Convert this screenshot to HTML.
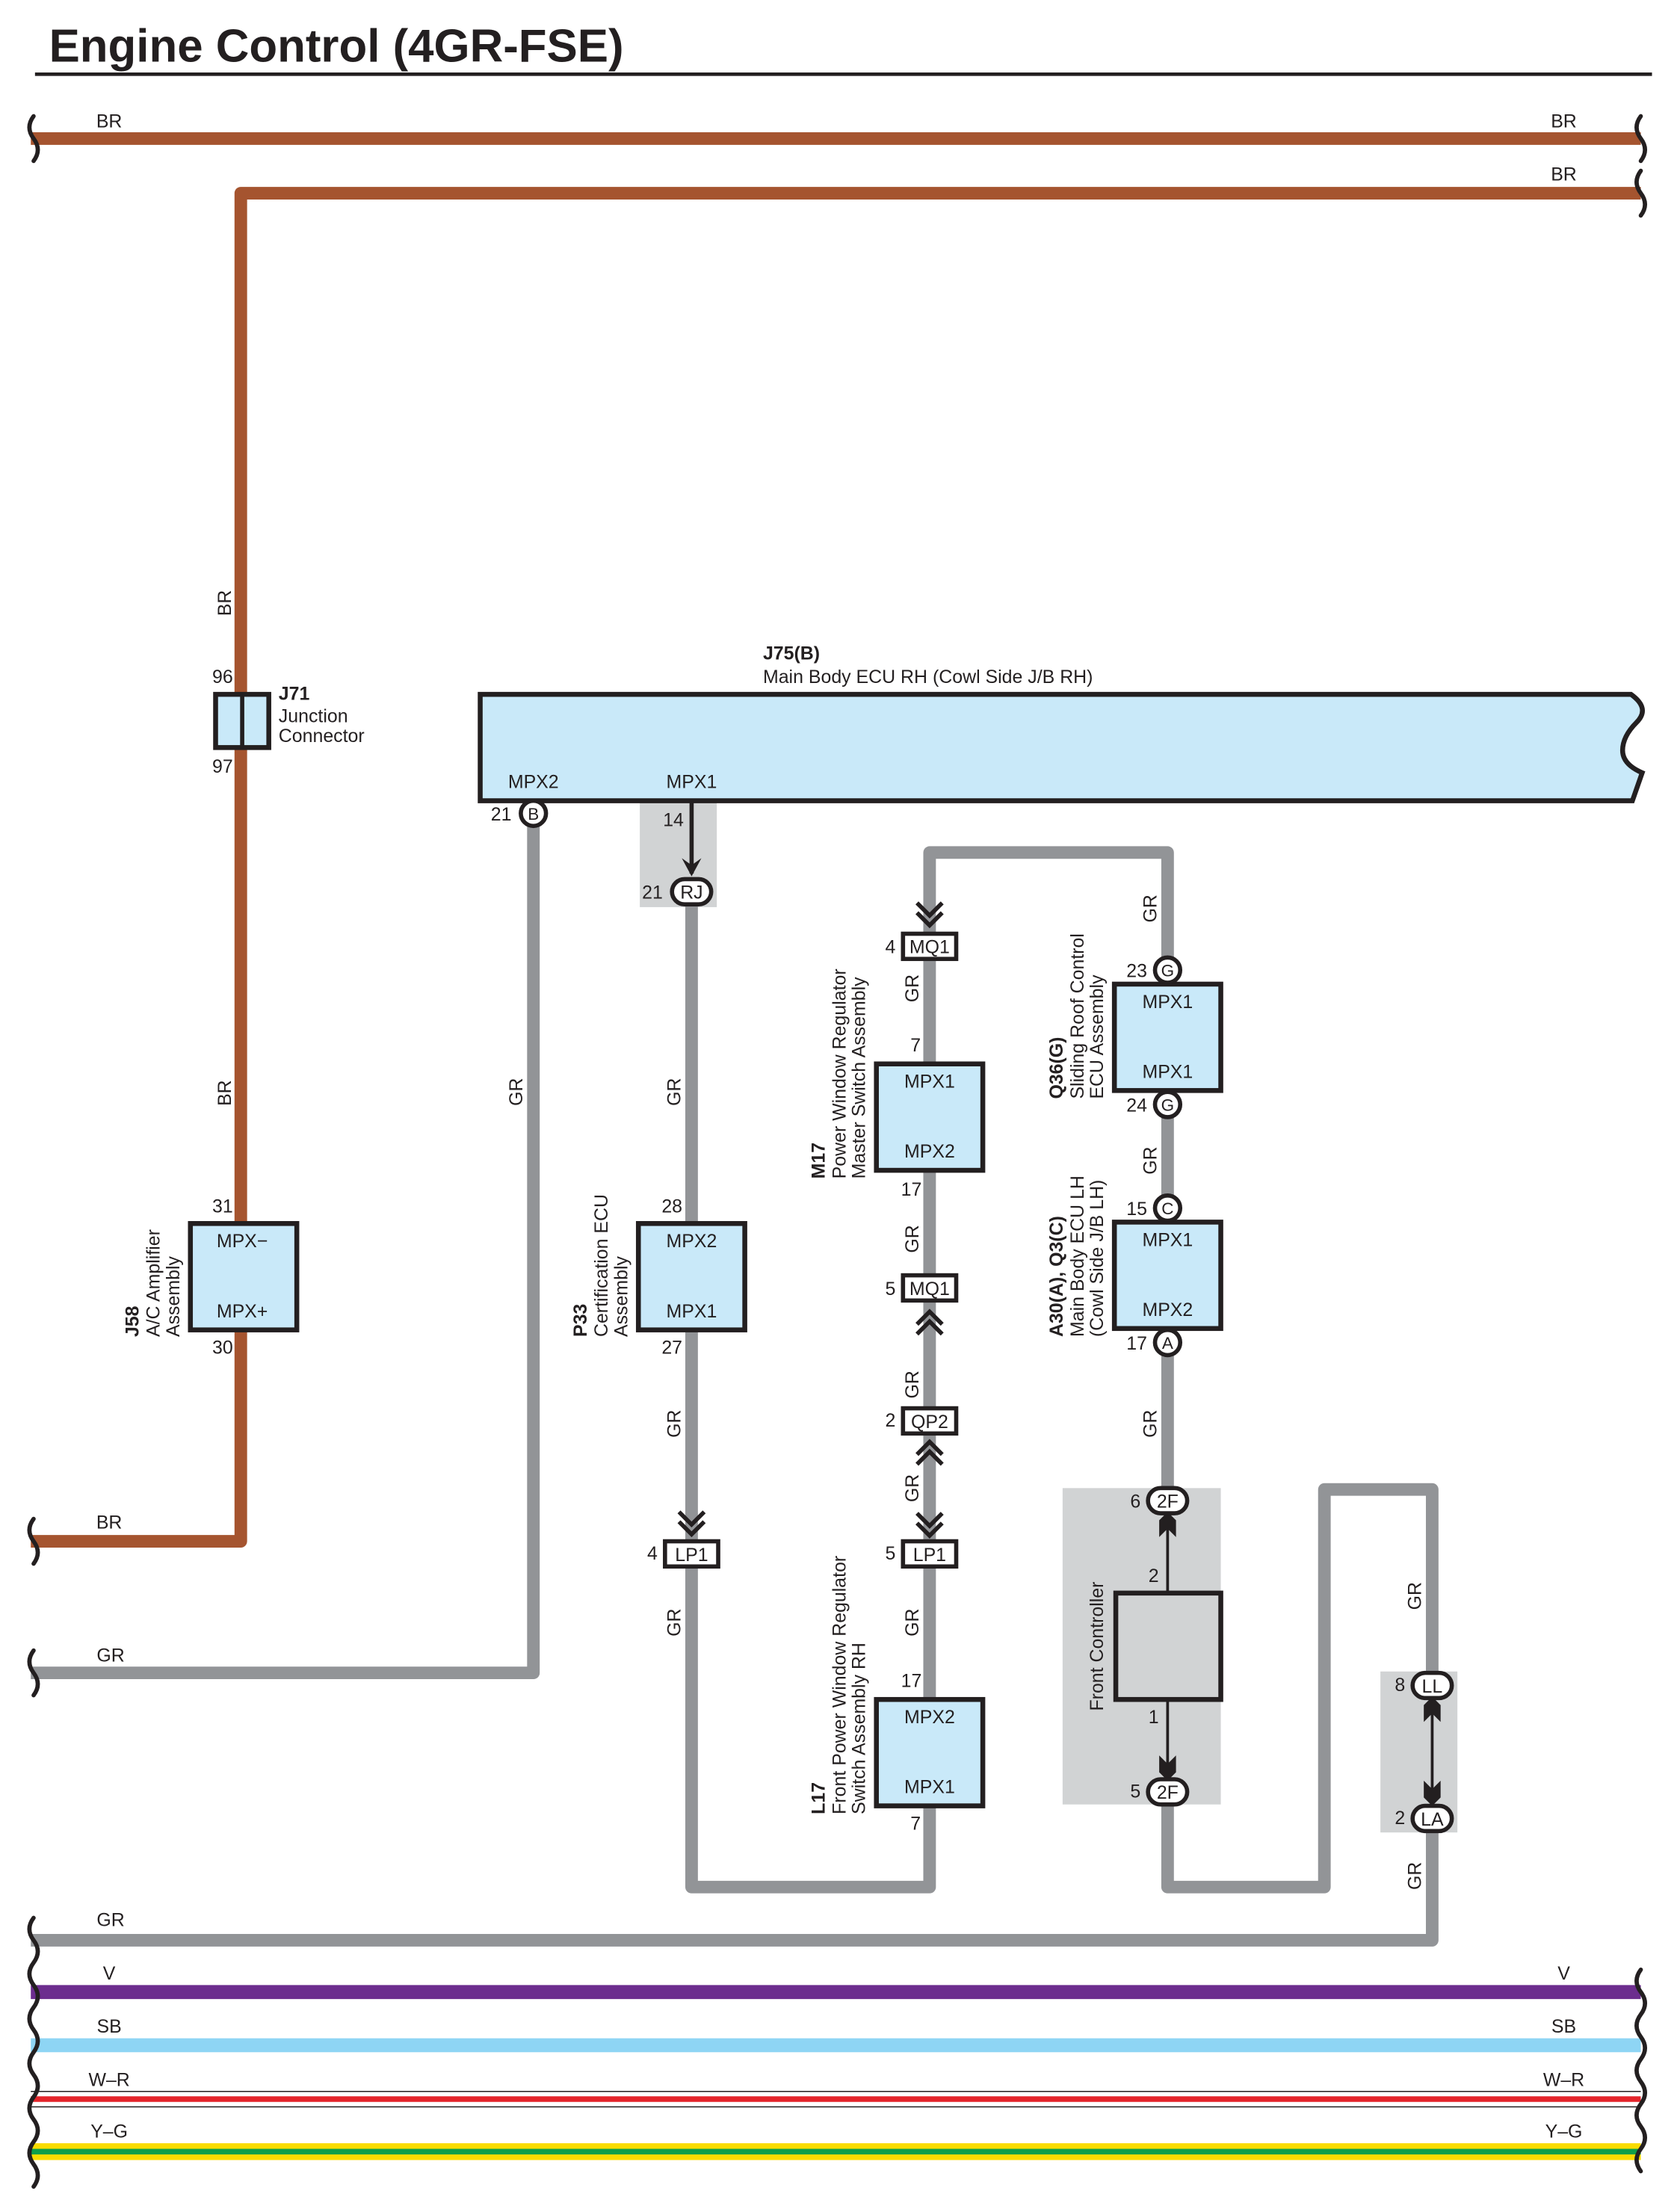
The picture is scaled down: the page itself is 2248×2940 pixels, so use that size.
<!DOCTYPE html>
<html><head><meta charset="utf-8"><style>
html,body{margin:0;padding:0;background:#fff;width:2248px;height:2940px;overflow:hidden}
svg{display:block}
text{font-family:"Liberation Sans",sans-serif;font-size:13.3px;fill:#231f20}
.b{font-weight:bold}
.w{fill:none;stroke-linejoin:round;stroke-linecap:butt}
.br{stroke:#a5542f;stroke-width:9}
.gr{stroke:#929497;stroke-width:9}
.k{fill:none;stroke:#231f20;stroke-width:3}
.box{fill:#c9e9f9;stroke:#231f20;stroke-width:3.5}
.cc{fill:#fff;stroke:#231f20;stroke-width:3}
.wv{fill:none;stroke:#231f20;stroke-width:3;stroke-linecap:round}
.m{text-anchor:middle}
.e{text-anchor:end}
</style></head><body>
<svg width="2248" height="2940" viewBox="0 0 1200 1569.4" xmlns="http://www.w3.org/2000/svg">
<text x="35" y="44" class="b" style="font-size:33px">Engine Control (4GR-FSE)</text>
<line x1="25" y1="53" x2="1180" y2="53" stroke="#231f20" stroke-width="2.5"/>

<!-- BR wires -->
<line class="w br" x1="22" y1="99" x2="1172" y2="99"/>
<polyline class="w br" points="1172,138 172,138 172,1101 22,1101"/>
<text x="78" y="91" class="m">BR</text><text x="1117" y="91" class="m">BR</text>
<text x="1117" y="129" class="m">BR</text><text x="78" y="1092" class="m">BR</text>
<text transform="translate(165,440) rotate(-90)">BR</text>
<text transform="translate(165,790) rotate(-90)">BR</text>

<!-- J71 -->
<rect x="154" y="496" width="38" height="38" class="box"/>
<line x1="173" y1="496" x2="173" y2="534" stroke="#231f20" stroke-width="3"/>
<text x="159" y="488" class="m">96</text><text x="159" y="552" class="m">97</text>
<text x="199" y="500" class="b">J71</text><text x="199" y="516">Junction</text><text x="199" y="530">Connector</text>

<!-- J58 -->
<rect x="136" y="874" width="76" height="76" class="box"/>
<text x="173" y="891" class="m">MPX−</text><text x="173" y="941" class="m">MPX+</text>
<text x="159" y="866" class="m">31</text><text x="159" y="967" class="m">30</text>
<text transform="translate(99,955) rotate(-90)" class="b">J58</text>
<text transform="translate(114,955) rotate(-90)">A/C Amplifier</text>
<text transform="translate(128,955) rotate(-90)">Assembly</text>

<!-- GR wires -->
<polyline class="w gr" points="381,590 381,1195 22,1195"/>
<text x="79" y="1187" class="m">GR</text>
<text transform="translate(373,790) rotate(-90)">GR</text>
<rect x="457" y="572" width="55" height="76" fill="#d1d3d4"/>
<polyline class="w gr" points="494,646 494,1348 664,1348 664,1290"/>
<polyline class="w gr" points="664,1214 664,609 834,609 834,703"/>
<line class="w gr" x1="834" y1="779" x2="834" y2="873"/>
<rect x="759" y="1063" width="113" height="226" fill="#d1d3d4"/>
<polyline class="w gr" points="834,949 834,1064"/>
<polyline class="w gr" points="834,1288 834,1348 946,1348 946,1064 1023,1064 1023,1195"/>
<rect x="986" y="1194" width="55" height="115" fill="#d1d3d4"/>
<polyline class="w gr" points="1023,1308 1023,1386 22,1386"/>
<text x="79" y="1376" class="m">GR</text>

<!-- J75 -->
<path d="M343,496 H1165 q14,10 4,20 q-10,10 -10,20 q0,10 14,16 l-7,20 H343 Z" class="box"/>
<text x="545" y="471" class="b">J75(B)</text>
<text x="545" y="488">Main Body ECU RH (Cowl Side J/B RH)</text>
<text x="381" y="563" class="m">MPX2</text><text x="494" y="563" class="m">MPX1</text>
<circle cx="381" cy="581" r="9" class="cc"/><text x="381" y="585.5" class="m" style="font-size:12px">B</text>
<text x="358" y="586" class="m">21</text>

<!-- RJ -->
<text x="481" y="590" class="m">14</text>
<line x1="494" y1="572" x2="494" y2="624" class="k" stroke-width="2"/>
<path d="M487,613 L494,626 L501,613 L494,618 Z" fill="#231f20"/>
<rect x="480" y="628" width="28" height="18" rx="9" class="cc"/>
<text x="494" y="642" class="m">RJ</text><text x="466" y="642" class="m">21</text>

<!-- P33 -->
<rect x="456" y="874" width="76" height="76" class="box"/>
<text x="494" y="891" class="m">MPX2</text><text x="494" y="941" class="m">MPX1</text>
<text x="480" y="866" class="m">28</text><text x="480" y="967" class="m">27</text>
<text transform="translate(419,955) rotate(-90)" class="b">P33</text>
<text transform="translate(434,955) rotate(-90)">Certification ECU</text>
<text transform="translate(448,955) rotate(-90)">Assembly</text>
<text transform="translate(486,790) rotate(-90)">GR</text>
<text transform="translate(486,1027) rotate(-90)">GR</text>
<text transform="translate(486,1169) rotate(-90)">GR</text>

<!-- chevrons -->
<g class="k" stroke-linecap="butt">
<polyline points="485,1080 494,1089 503,1080"/><polyline points="485,1087 494,1096 503,1087"/>
<polyline points="655,645 664,654 673,645"/><polyline points="655,652 664,661 673,652"/>
<polyline points="655,946 664,937 673,946"/><polyline points="655,953 664,944 673,953"/>
<polyline points="655,1039 664,1030 673,1039"/><polyline points="655,1046 664,1037 673,1046"/>
<polyline points="655,1081 664,1090 673,1081"/><polyline points="655,1088 664,1097 673,1088"/>
</g>
<rect x="475" y="1101" width="38" height="18" class="cc"/><text x="494" y="1115" class="m">LP1</text><text x="466" y="1114" class="m">4</text>

<!-- middle column connectors -->
<rect x="645" y="667" width="38" height="18" class="cc"/><text x="664" y="681" class="m">MQ1</text><text x="636" y="681" class="m">4</text>
<rect x="645" y="911" width="38" height="18" class="cc"/><text x="664" y="925" class="m">MQ1</text><text x="636" y="925" class="m">5</text>
<rect x="645" y="1006" width="38" height="18" class="cc"/><text x="664" y="1020" class="m">QP2</text><text x="636" y="1019" class="m">2</text>
<rect x="645" y="1101" width="38" height="18" class="cc"/><text x="664" y="1115" class="m">LP1</text><text x="636" y="1114" class="m">5</text>
<text transform="translate(656,716) rotate(-90)">GR</text>
<text transform="translate(656,895) rotate(-90)">GR</text>
<text transform="translate(656,999) rotate(-90)">GR</text>
<text transform="translate(656,1073) rotate(-90)">GR</text>
<text transform="translate(656,1169) rotate(-90)">GR</text>

<!-- M17 -->
<rect x="626" y="760" width="76" height="76" class="box"/>
<text x="664" y="777" class="m">MPX1</text><text x="664" y="827" class="m">MPX2</text>
<text x="654" y="751" class="m">7</text><text x="651" y="854" class="m">17</text>
<text transform="translate(589,842) rotate(-90)" class="b">M17</text>
<text transform="translate(604,842) rotate(-90)">Power Window Regulator</text>
<text transform="translate(618,842) rotate(-90)">Master Switch Assembly</text>

<!-- L17 -->
<rect x="626" y="1214" width="76" height="76" class="box"/>
<text x="664" y="1231" class="m">MPX2</text><text x="664" y="1281" class="m">MPX1</text>
<text x="651" y="1205" class="m">17</text><text x="654" y="1307" class="m">7</text>
<text transform="translate(589,1296) rotate(-90)" class="b">L17</text>
<text transform="translate(604,1296) rotate(-90)">Front Power Window Regulator</text>
<text transform="translate(618,1296) rotate(-90)">Switch Assembly RH</text>

<!-- Q36 -->
<rect x="796" y="703" width="76" height="76" class="box"/>
<text x="834" y="720" class="m">MPX1</text><text x="834" y="770" class="m">MPX1</text>
<circle cx="834" cy="693" r="9" class="cc"/><text x="834" y="697.5" class="m" style="font-size:12px">G</text><text x="812" y="698" class="m">23</text>
<circle cx="834" cy="789" r="9" class="cc"/><text x="834" y="793.5" class="m" style="font-size:12px">G</text><text x="812" y="794" class="m">24</text>
<text transform="translate(759,785) rotate(-90)" class="b">Q36(G)</text>
<text transform="translate(774,785) rotate(-90)">Sliding Roof Control</text>
<text transform="translate(788,785) rotate(-90)">ECU Assembly</text>
<text transform="translate(826,659) rotate(-90)">GR</text>
<text transform="translate(826,839) rotate(-90)">GR</text>

<!-- A30 -->
<rect x="796" y="873" width="76" height="76" class="box"/>
<text x="834" y="890" class="m">MPX1</text><text x="834" y="940" class="m">MPX2</text>
<circle cx="834" cy="863" r="9" class="cc"/><text x="834" y="867.5" class="m" style="font-size:12px">C</text><text x="812" y="868" class="m">15</text>
<circle cx="834" cy="959" r="9" class="cc"/><text x="834" y="963.5" class="m" style="font-size:12px">A</text><text x="812" y="964" class="m">17</text>
<text transform="translate(759,955) rotate(-90)" class="b">A30(A), Q3(C)</text>
<text transform="translate(774,955) rotate(-90)">Main Body ECU LH</text>
<text transform="translate(788,955) rotate(-90)">(Cowl Side J/B LH)</text>
<text transform="translate(826,1027) rotate(-90)">GR</text>

<!-- Front controller -->
<rect x="797" y="1138" width="75" height="76" fill="#d1d3d4" stroke="#231f20" stroke-width="3.5"/>
<line x1="834" y1="1138" x2="834" y2="1085" stroke="#231f20" stroke-width="2"/>
<line x1="834" y1="1214" x2="834" y2="1268" stroke="#231f20" stroke-width="2"/>
<path d="M834,1080 L840,1086 L840,1098 L834,1092 L828,1098 L828,1086 Z" fill="#231f20"/>
<path d="M834,1272 L840,1266 L840,1254 L834,1260 L828,1254 L828,1266 Z" fill="#231f20"/>
<rect x="820" y="1063" width="28" height="18" rx="9" class="cc"/><text x="834" y="1077" class="m">2F</text><text x="811" y="1077" class="m">6</text>
<rect x="820" y="1271" width="28" height="18" rx="9" class="cc"/><text x="834" y="1285" class="m">2F</text><text x="811" y="1284" class="m">5</text>
<text x="824" y="1130" class="m">2</text><text x="824" y="1231" class="m">1</text>
<text transform="translate(788,1176) rotate(-90)" class="m">Front Controller</text>

<!-- LL / LA -->
<line x1="1023" y1="1216" x2="1023" y2="1288" stroke="#231f20" stroke-width="2"/>
<path d="M1023,1212 L1029,1218 L1029,1230 L1023,1224 L1017,1230 L1017,1218 Z" fill="#231f20"/>
<path d="M1023,1290 L1029,1284 L1029,1272 L1023,1278 L1017,1272 L1017,1284 Z" fill="#231f20"/>
<rect x="1009" y="1195" width="28" height="18" rx="9" class="cc"/><text x="1023" y="1209" class="m">LL</text><text x="1000" y="1208" class="m">8</text>
<rect x="1009" y="1290" width="28" height="18" rx="9" class="cc"/><text x="1023" y="1304" class="m">LA</text><text x="1000" y="1303" class="m">2</text>
<text transform="translate(1015,1150) rotate(-90)">GR</text>
<text transform="translate(1015,1350) rotate(-90)">GR</text>

<!-- bottom wires -->
<line x1="22" y1="1423" x2="1172" y2="1423" stroke="#6c2d8e" stroke-width="10"/>
<line x1="22" y1="1461" x2="1172" y2="1461" stroke="#8ed5f4" stroke-width="10"/>
<line x1="22" y1="1494" x2="1172" y2="1494" stroke="#231f20" stroke-width="0.8"/>
<line x1="22" y1="1499.5" x2="1172" y2="1499.5" stroke="#e4252b" stroke-width="4"/>
<line x1="22" y1="1505" x2="1172" y2="1505" stroke="#231f20" stroke-width="0.8"/>
<rect x="22" y="1531" width="1150" height="12" fill="#f9dc00"/>
<rect x="22" y="1535" width="1150" height="4" fill="#0d9f4a"/>
<text x="78" y="1414" class="m">V</text><text x="1117" y="1414" class="m">V</text>
<text x="78" y="1452" class="m">SB</text><text x="1117" y="1452" class="m">SB</text>
<text x="78" y="1490" class="m">W–R</text><text x="1117" y="1490" class="m">W–R</text>
<text x="78" y="1527" class="m">Y–G</text><text x="1117" y="1527" class="m">Y–G</text>

<!-- wavy breaks -->
<g class="wv">
<path d="M24,83 q-6,8 0,16 q6,8 0,16"/>
<path d="M1172,83 q-6,8 0,16 q6,8 0,16"/>
<path d="M1172,122 q-6,8 0,16 q6,8 0,16"/>
<path d="M24,1085 q-6,8 0,16 q6,8 0,16"/>
<path d="M24,1179 q-6,8 0,16 q6,8 0,16"/>
<path d="M24,1370 q-6,8 0,16 q6,8 0,16 q-6,8 0,16 q6,8 0,16 q-6,8 0,16 q6,8 0,16 q-6,8 0,16 q6,8 0,16 q-6,8 0,16 q6,8 0,16 q-6,8 0,16 q6,8 0,16"/>
<path d="M1172,1407 q-6,8 0,16 q6,8 0,16 q-6,8 0,16 q6,8 0,16 q-6,8 0,16 q6,8 0,16 q-6,8 0,16 q6,8 0,16 q-6,8 0,16"/>
</g>
</svg>
</body></html>
